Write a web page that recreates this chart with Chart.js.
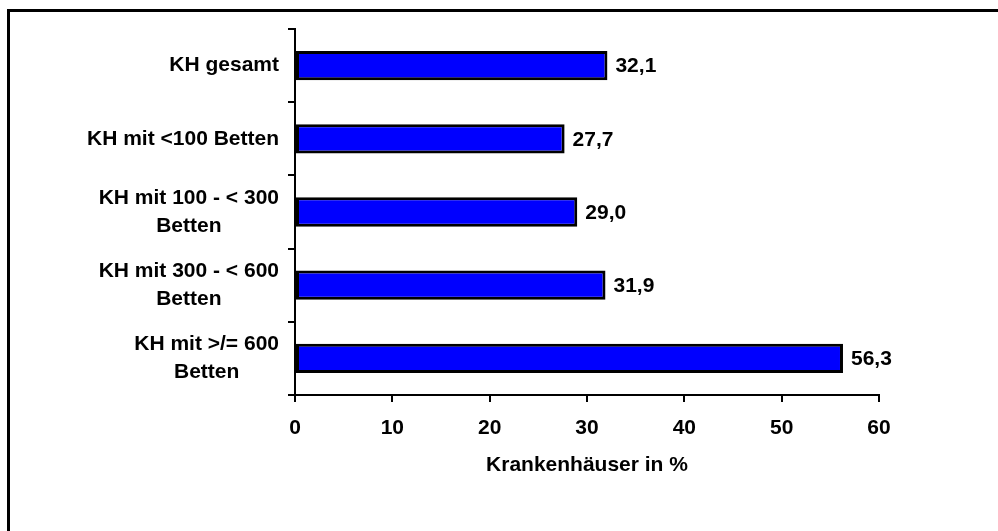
<!DOCTYPE html>
<html>
<head>
<meta charset="utf-8">
<script src="https://cdn.jsdelivr.net/npm/chart.js@4/dist/chart.umd.min.js"></script>
<style>
html,body{margin:0;padding:0;background:#fff;overflow:hidden;}
canvas{display:block;}
</style>
</head>
<body>
<canvas id="c" width="998" height="531"></canvas>
<script>
// ---- data ----
const categories = [
  ["KH gesamt"],
  ["KH mit <100 Betten"],
  ["KH mit 100 - < 300", "Betten"],
  ["KH mit 300 - < 600", "Betten"],
  ["KH mit >/= 600", "Betten"]
];
const values = [32.1, 27.7, 29.0, 31.9, 56.3];
const xMin = 0, xMax = 60, xStep = 10;
const xTitle = "Krankenhäuser in %";

const FONT = "'Liberation Sans', Arial, Helvetica, sans-serif";
const FSIZE = 21;

const frame = {
  id: 'frame',
  beforeDraw(chart) {
    const ctx = chart.ctx;
    ctx.save();
    ctx.fillStyle = '#fff';
    ctx.fillRect(0, 0, chart.width, chart.height);
    ctx.strokeStyle = '#000';
    ctx.lineWidth = 3;
    ctx.beginPath();
    ctx.moveTo(8.5, chart.height + 5);
    ctx.lineTo(8.5, 10.5);
    ctx.lineTo(chart.width + 5, 10.5);
    ctx.stroke();
    ctx.restore();
  }
};

const yLabels = {
  id: 'yLabels',
  afterDraw(chart) {
    const ctx = chart.ctx;
    const ys = chart.scales.y;
    const right = ys.right - 16;
    const lh = 28;
    ctx.save();
    ctx.font = 'bold ' + FSIZE + 'px ' + FONT;
    ctx.fillStyle = '#000';
    ctx.textBaseline = 'middle';
    ctx.textAlign = 'center';
    categories.forEach((lines, i) => {
      const cy = ys.getPixelForValue(i);
      const w = Math.max(...lines.map(l => ctx.measureText(l).width));
      const cx = right - w / 2;
      const y0 = cy - (lines.length - 1) * lh / 2;
      lines.forEach((l, k) => ctx.fillText(l, cx, y0 + k * lh));
    });
    ctx.restore();
  }
};

const valueLabels = {
  id: 'valueLabels',
  afterDatasetsDraw(chart) {
    const ctx = chart.ctx;
    const meta = chart.getDatasetMeta(0);
    ctx.save();
    ctx.font = 'bold ' + FSIZE + 'px ' + FONT;
    ctx.fillStyle = '#000';
    ctx.textBaseline = 'middle';
    ctx.textAlign = 'left';
    meta.data.forEach((bar, i) => {
      ctx.fillText(values[i].toFixed(1).replace('.', ','), bar.x + 8, bar.y + 1);
    });
    ctx.restore();
  }
};

new Chart(document.getElementById('c'), {
  type: 'bar',
  data: {
    labels: categories,
    datasets: [{
      data: values,
      backgroundColor: '#0000FF',
      borderColor: '#000000',
      borderWidth: 3,
      borderSkipped: false,
      barPercentage: 0.4,
      categoryPercentage: 1.0
    }]
  },
  options: {
    indexAxis: 'y',
    responsive: false,
    animation: false,
    devicePixelRatio: 1,
    layout: { padding: { top: 29, right: 119, bottom: 0, left: 0 } },
    plugins: {
      legend: { display: false },
      tooltip: { enabled: false }
    },
    scales: {
      y: {
        afterFit(scale) { scale.width = 295; },
        ticks: { display: false },
        grid: {
          offset: true,
          drawOnChartArea: false,
          drawTicks: true,
          tickLength: 7,
          color: '#000',
          lineWidth: 2
        },
        border: { display: true, color: '#000', width: 2 }
      },
      x: {
        min: xMin,
        max: xMax,
        afterFit(scale) { scale.height = 136; },
        ticks: {
          stepSize: xStep,
          color: '#000',
          padding: 14,
          font: { family: FONT, size: FSIZE, weight: 'bold' }
        },
        grid: {
          drawOnChartArea: false,
          drawTicks: true,
          tickLength: 7,
          color: '#000',
          lineWidth: 2
        },
        border: { display: true, color: '#000', width: 2 },
        title: {
          display: true,
          text: xTitle,
          color: '#000',
          font: { family: FONT, size: FSIZE, weight: 'bold' },
          padding: { top: 0, bottom: 53 }
        }
      }
    }
  },
  plugins: [frame, yLabels, valueLabels]
});
</script>
</body>
</html>
